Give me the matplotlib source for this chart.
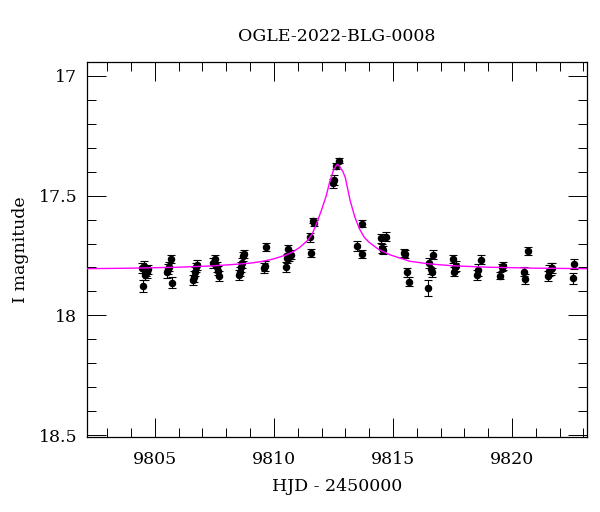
import matplotlib
matplotlib.use("Agg")
import matplotlib.pyplot as plt
from matplotlib.ticker import MultipleLocator, FormatStrFormatter

title = "OGLE-2022-BLG-0008"
xlabel = "HJD - 2450000"
ylabel = "I magnitude"

# observations (HJD-2450000, I mag, error)
obs_t = [9804.48, 9804.50, 9804.55, 9804.60, 9804.63, 9804.68, 9804.72,
         9805.52, 9805.56, 9805.60, 9805.68, 9805.73,
         9806.61, 9806.64, 9806.68, 9806.72, 9806.75,
         9807.45, 9807.52, 9807.59, 9807.64, 9807.69,
         9808.53, 9808.58, 9808.61, 9808.66, 9808.72, 9808.75,
         9809.59, 9809.62, 9809.65,
         9810.50, 9810.55, 9810.58, 9810.64, 9810.70,
         9811.51, 9811.55, 9811.63, 9811.67,
         9812.49, 9812.52, 9812.60, 9812.72,
         9813.50, 9813.68, 9813.70,
         9814.48, 9814.53, 9814.59, 9814.69,
         9815.47, 9815.52, 9815.58, 9815.69,
         9816.48, 9816.53, 9816.58, 9816.63, 9816.69,
         9817.51, 9817.56, 9817.62, 9817.65,
         9818.52, 9818.58, 9818.68,
         9819.50, 9819.57, 9819.61,
         9820.50, 9820.55, 9820.67,
         9821.53, 9821.57, 9821.62, 9821.67,
         9822.55, 9822.59]
obs_mag = [17.803, 17.877, 17.793, 17.830, 17.815, 17.821, 17.808,
           17.821, 17.807, 17.796, 17.765, 17.863,
           17.852, 17.838, 17.817, 17.800, 17.789,
           17.782, 17.765, 17.799, 17.813, 17.835,
           17.831, 17.817, 17.799, 17.782, 17.754, 17.743,
           17.803, 17.793, 17.715,
           17.799, 17.762, 17.724, 17.757, 17.747,
           17.674, 17.740, 17.604, 17.613,
           17.449, 17.434, 17.376, 17.354,
           17.710, 17.618, 17.743,
           17.678, 17.720, 17.727, 17.671,
           17.740, 17.745, 17.821, 17.859,
           17.886, 17.782, 17.807, 17.821, 17.747,
           17.765, 17.817, 17.800, 17.793,
           17.831, 17.810, 17.768,
           17.835, 17.800, 17.793,
           17.817, 17.849, 17.731,
           17.835, 17.813, 17.805, 17.803,
           17.845, 17.785]
obs_err = [0.022, 0.025, 0.020, 0.022, 0.020, 0.022, 0.020,
           0.022, 0.020, 0.020, 0.018, 0.023,
           0.022, 0.022, 0.020, 0.020, 0.020,
           0.020, 0.018, 0.020, 0.020, 0.020,
           0.022, 0.020, 0.020, 0.020, 0.020, 0.018,
           0.022, 0.020, 0.018,
           0.022, 0.020, 0.016, 0.018, 0.018,
           0.018, 0.018, 0.012, 0.012,
           0.020, 0.020, 0.012, 0.010,
           0.020, 0.015, 0.018,
           0.018, 0.018, 0.018, 0.018,
           0.016, 0.016, 0.020, 0.020,
           0.033, 0.022, 0.020, 0.020, 0.018,
           0.018, 0.020, 0.020, 0.020,
           0.022, 0.025, 0.018,
           0.015, 0.016, 0.016,
           0.020, 0.022, 0.016,
           0.022, 0.022, 0.025, 0.022,
           0.022, 0.022]

# model curve
model_t = [9802.15, 9804.0, 9806.0, 9807.5, 9808.5, 9809.0, 9809.5, 9810.0,
           9810.5, 9810.8, 9811.1, 9811.4, 9811.6, 9811.8, 9812.0, 9812.2,
           9812.35, 9812.5, 9812.6, 9812.66, 9812.72, 9812.8, 9812.9, 9813.0,
           9813.2, 9813.4, 9813.6, 9813.8, 9814.0, 9814.4, 9814.9, 9815.7,
           9816.5, 9817.5, 9819.0, 9821.0, 9823.15]
model_mag = [17.805, 17.803, 17.799, 17.793, 17.786, 17.782, 17.775, 17.764,
             17.748, 17.735, 17.715, 17.688, 17.662, 17.615, 17.560, 17.500,
             17.440, 17.395, 17.377, 17.370, 17.373, 17.384, 17.400, 17.425,
             17.520, 17.590, 17.640, 17.675, 17.695, 17.725, 17.748, 17.774,
             17.785, 17.793, 17.799, 17.803, 17.805]

plt.rcParams['font.family'] = ['DejaVu Serif']

fig = plt.figure(figsize=(6.0, 5.12), dpi=100)
ax = fig.add_axes([87/600, 1 - 437/512, 500/600, 375/512])

ax.errorbar(obs_t, obs_mag, yerr=obs_err, fmt='o', color='black', ms=4.4,
            ecolor='black', elinewidth=0.8, capsize=2.8, capthick=0.8, zorder=2)
ax.plot(model_t, model_mag, color='#ff00ff', lw=1.0, zorder=3)

ax.set_xlim(9802.15, 9823.15)
ax.set_ylim(18.508, 16.942)

ax.xaxis.set_major_locator(MultipleLocator(5))
ax.xaxis.set_minor_locator(MultipleLocator(1))
ax.yaxis.set_major_locator(MultipleLocator(0.5))
ax.yaxis.set_minor_locator(MultipleLocator(0.1))
ax.yaxis.set_major_formatter(FormatStrFormatter('%g'))
ax.xaxis.set_major_formatter(FormatStrFormatter('%d'))

ax.tick_params(which='both', direction='in', top=True, right=True, width=0.7,
               labelsize=12.5)
ax.tick_params(which='major', length=13.5)
ax.tick_params(which='minor', length=6.8)
ax.tick_params(axis='x', which='major', pad=10)
ax.tick_params(axis='y', which='major', pad=7)
for s in ax.spines.values():
    s.set_linewidth(0.9)

ax.set_title(title, fontsize=12.5, pad=15)
ax.set_xlabel(xlabel, fontsize=12.5, labelpad=7)
ax.set_ylabel(ylabel, fontsize=12.5, labelpad=7)

fig.savefig('out.png', dpi=100)
